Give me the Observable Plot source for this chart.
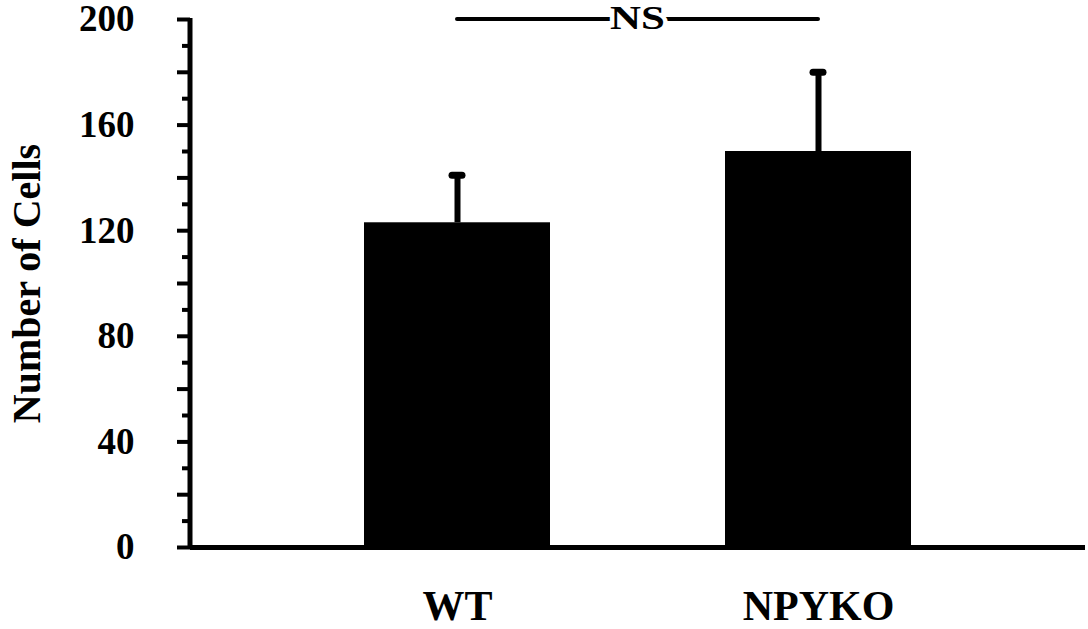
<!DOCTYPE html>
<html>
<head>
<meta charset="utf-8">
<script src="https://cdn.jsdelivr.net/npm/d3@7"></script>
<script src="https://cdn.jsdelivr.net/npm/@observablehq/plot@0.6"></script>
<style>
  html, body { margin: 0; padding: 0; background: #fff; }
  #chart svg { display: block; }
</style>
</head>
<body>
<div id="chart"></div>
<script>
// ---- data ----
const groups = ["WT", "NPYKO"];
const means = [123, 150];
const upperErrors = [141, 180];
const yMajorTicks = [0, 20, 40, 60, 80, 100, 120, 140, 160, 180, 200];
const yMinorTicks = [10, 30, 50, 70, 90, 110, 130, 150, 170, 190];
const yLabelTicks = [0, 40, 80, 120, 160, 200];
const yTitle = "Number of Cells";
const comparisonLabel = "NS";
const comparisonLevel = 200;

const table = groups.map((g, i) => ({ group: g, mean: means[i], upper: upperErrors[i] }));

const FONT = "'Liberation Serif', 'Times New Roman', serif";

function bandCenter(sx, v) {
  const bw = typeof sx.bandwidth === "function" ? sx.bandwidth() : (sx.bandwidth || 0);
  return sx(v) + bw / 2;
}

// y axis spine
function ySpine(index, scales, values, dims) {
  return d3.create("svg:line")
    .attr("x1", dims.marginLeft).attr("x2", dims.marginLeft)
    .attr("y1", scales.y(0) + 2).attr("y2", scales.y(comparisonLevel) - 1)
    .attr("stroke", "black").attr("stroke-width", 5)
    .node();
}

// significance bracket with "NS"
function comparison(index, scales, values, dims) {
  const x1 = bandCenter(scales.x, groups[0]);
  const x2 = bandCenter(scales.x, groups[1]);
  const y = scales.y(comparisonLevel);
  const g = d3.create("svg:g");
  g.append("line")
    .attr("x1", x1).attr("x2", x2).attr("y1", y).attr("y2", y)
    .attr("stroke", "black").attr("stroke-width", 4).attr("stroke-linecap", "round");
  g.append("text")
    .attr("transform", `translate(${(x1 + x2) / 2},${y + 10}) scale(1.3,1)`)
    .attr("text-anchor", "middle")
    .style("font-family", FONT).style("font-weight", "bold").style("font-size", "33px")
    .attr("fill", "black").attr("stroke", "white").attr("stroke-width", 7)
    .attr("paint-order", "stroke")
    .text(comparisonLabel);
  return g.node();
}

const chart = Plot.plot({
  width: 1088,
  height: 629,
  marginLeft: 190,
  marginRight: 3,
  marginTop: 19,
  marginBottom: 82,
  style: { fontFamily: FONT, fontWeight: "bold", fontSize: "36px", background: "white", color: "black", overflow: "visible" },
  x: { domain: groups, paddingInner: 0.485, paddingOuter: 0.48, align: 0.5, label: null },
  y: { domain: [0, 200], label: null },
  marks: [
    Plot.barY(table, { x: "group", y: "mean", fill: "black" }),
    Plot.ruleX(table, { x: "group", y1: "mean", y2: "upper", stroke: "black", strokeWidth: 6 }),
    Plot.tickY(table, { x: "group", y: "upper", stroke: "black", strokeWidth: 7, strokeLinecap: "round", insetLeft: 88, insetRight: 88 }),
    Plot.ruleY([0], { stroke: "black", strokeWidth: 5 }),
    ySpine,
    Plot.axisY({ ticks: yMinorTicks, tickSize: 8, tickFormat: () => "", strokeWidth: 4, label: null }),
    Plot.axisY({ ticks: yMajorTicks, tickSize: 13, tickPadding: 43, strokeWidth: 4, label: null,
                 tickFormat: d => yLabelTicks.includes(d) ? String(d) : "", fontSize: 37 }),
    Plot.axisX({ tickSize: 0, tickPadding: 43, label: null, fontSize: 42 }),
    Plot.text([yTitle], { frameAnchor: "left", rotate: -90, dx: -163, textAnchor: "middle", text: d => d, fontSize: 40, fontWeight: "bold", fill: "black" }),
    comparison
  ]
});

document.getElementById("chart").appendChild(chart);
</script>
</body>
</html>
